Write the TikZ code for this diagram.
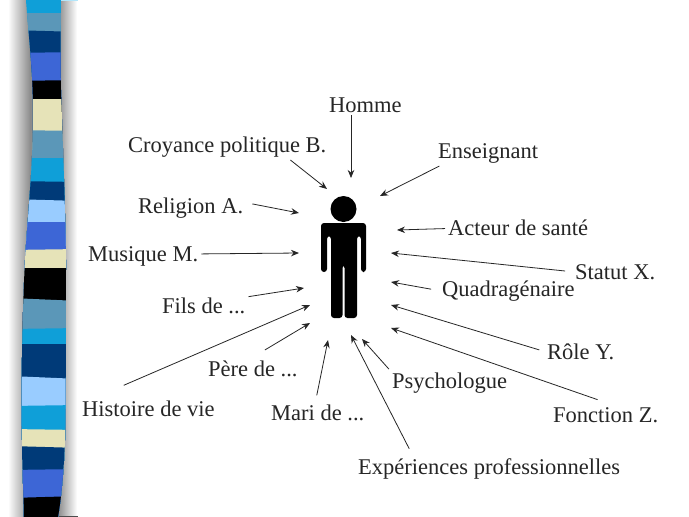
\documentclass[tikz,border=0pt]{standalone}
\usepackage{fontspec}
\setmainfont{Liberation Serif}
\usetikzlibrary{arrows.meta}
\tikzset{lbl/.style={anchor=base west, inner sep=3pt, text=black!85, font=\fontsize{22.5}{26}\selectfont},
         ptr/.style={-{Stealth[length=8pt,width=6.5pt]}, line width=0.8pt, black!85}}

\begin{document}
\begin{tikzpicture}[x=1pt,y=-1pt]
   \useasboundingbox (0,0) rectangle (689,517);
   \fill[white] (0,0) rectangle (689,517);
   % shadow of the binding
   \shade[left color=white, right color=black!45] (8,0) rectangle (30,517);
   \shade[left color=black!45, right color=white] (58,0) rectangle (77,517);
   \fill[black!45] (30,0) rectangle (58,517);
   \fill[black!70] (57,515.5) rectangle (78,517);
   \fill[cyan!30] (61,0) rectangle (78,1);
   % binding, each band covers the ones above it
   \begin{scope}
    \clip (26,0) .. controls (28,30) and (33,70) .. (33,110) .. controls (33,170) and (28,210) .. (25,260)
          .. controls (22,320) and (21,400) .. (22,440) .. controls (22,470) and (24,500) .. (24,517)
          -- (58,517) .. controls (61,500) and (64,470) .. (65,440) .. controls (66,400) and (66,300) .. (66,260)
          .. controls (65,200) and (63,150) .. (61,90) .. controls (60,50) and (61,20) .. (61,0) -- cycle;
    \foreach \yl/\yr/\col in {
       0/0/0F9FD8, 13/13/5B97B8, 30/32/003A78, 53/52/3D66D6, 81/80/000000,
       99/99/E6E3B8, 130/131/5B97B8, 158/158/0F9FD8, 181/182/003A78, 199/201/99CCFF,
       222/222/3D66D6, 250/249/E6E3B8, 268/268/000000, 298/301/5B97B8, 329/328/0F9FD8,
       344/344/003A78, 376/379/99CCFF, 406/405/0F9FD8, 429/430/E6E3B8, 446/448/003A78,
       470/469/3D66D6, 498/496/000000}
     {\definecolor{band}{HTML}{\col}
      \fill[band] (10,\yl) -- (80,\yr) -- (80,517) -- (10,517) -- cycle;}
   \end{scope}
   % figure
   \fill[black] (343.5,209) circle (13);
   \fill[black, rounded corners=3pt] (321,272) -- (321,223) -- (366,223) -- (366,272) -- (361,272) -- (361,236)
        -- (357,236) -- (357,318) -- (344.5,318) -- (344.5,265) -- (342.5,265) -- (342.5,318) -- (331,318)
        -- (331,236) -- (327,236) -- (327,272) -- cycle;
   % labels
   \node[lbl] (homme) at (326,112) {Homme};
   \node[lbl] (croyance) at (125,152) {Croyance politique B.};
   \node[lbl] (enseignant) at (435,158) {Enseignant};
   \node[lbl] (religion) at (135,213) {Religion A.};
   \node[lbl] (musique) at (85,261) {Musique M.};
   \node[lbl] (fils) at (159,313) {Fils de ...};
   \node[lbl] (pere) at (205,376) {P\`ere de ...};
   \node[lbl] (histoire) at (79,416) {Histoire de vie};
   \node[lbl] (mari) at (268,420) {Mari de ...};
   \node[lbl] (experiences) at (355,474) {Exp\'eriences professionnelles};
   \node[lbl] (psychologue) at (389,388) {Psychologue};
   \node[lbl] (fonction) at (550,422) {Fonction Z.};
   \node[lbl] (role) at (544,359) {R\^ole Y.};
   \node[lbl] (quadra) at (439,296) {Quadrag\'enaire};
   \node[lbl] (statut) at (572,279) {Statut X.};
   \node[lbl] (acteur) at (445,235) {Acteur de sant\'e};
   % arrow ends
   \coordinate (tipHomme) at (351,178);
   \coordinate (tipCroyance) at (327,189);
   \coordinate (tipEnseignant) at (380,196);
   \coordinate (tipReligion) at (299,213);
   \coordinate (tipMusique) at (299,253);
   \coordinate (tipFils) at (304,288);
   \coordinate (tipPere) at (310,323);
   \coordinate (tipHistoire) at (310,305);
   \coordinate (tipMari) at (328,340);
   \coordinate (tipExperiences) at (351,335);
   \coordinate (tipPsychologue) at (362,339);
   \coordinate (tipFonction) at (391,328);
   \coordinate (tipRole) at (391,305);
   \coordinate (tipQuadra) at (391,282);
   \coordinate (tipStatut) at (391,253);
   \coordinate (tipActeur) at (397,230);
   % arrows
   \draw[ptr] (homme.south -| tipHomme) -- (tipHomme);
   \draw[ptr] (croyance.-12) -- (tipCroyance);
   \draw[ptr] (enseignant.-165) -- (tipEnseignant);
   \draw[ptr, shorten <=6pt] (religion.5) -- (tipReligion);
   \draw[ptr] (musique.2) -- (tipMusique);
   \draw[ptr] (fils.11) -- (tipFils);
   \draw[ptr, shorten <=14pt] (pere.north) -- (tipPere);
   \draw[ptr, shorten <=30pt] (histoire.168) -- (tipHistoire);
   \draw[ptr, shorten <=6pt] (mari.101) -- (tipMari);
   \draw[ptr, shorten <=7pt] (experiences.170) -- (tipExperiences);
   \draw[ptr] (psychologue.north west) -- (tipPsychologue);
   \draw[ptr, shorten <=13pt] (fonction.69) -- (tipFonction);
   \draw[ptr, shorten <=5pt] (role.west) -- (tipRole);
   \draw[ptr, shorten <=8pt] (quadra.west) -- (tipQuadra);
   \draw[ptr, shorten <=7pt] (statut.west) -- (tipStatut);
   \draw[ptr] (acteur.-179) -- (tipActeur);
  \end{tikzpicture}
\end{document}
